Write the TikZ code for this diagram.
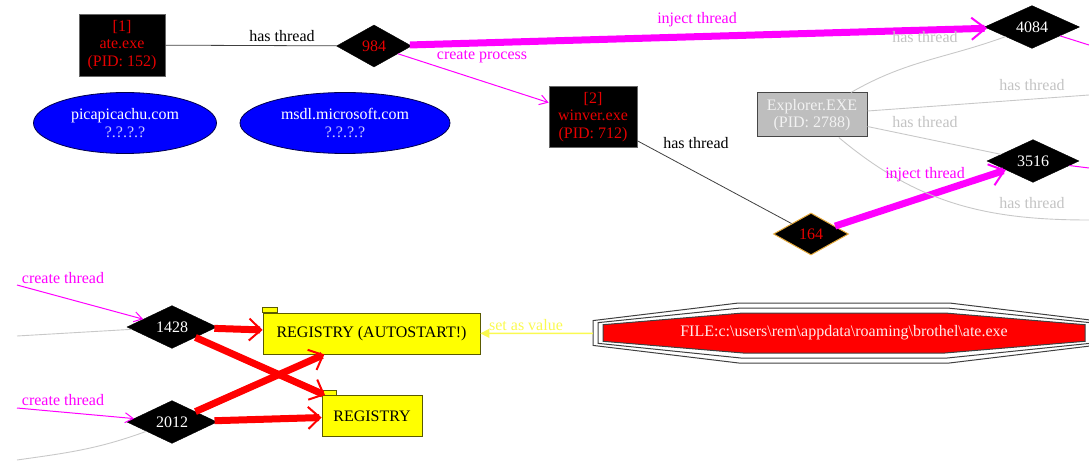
\documentclass[tikz,border=0pt]{standalone}
\usepackage{fontspec}
\setmainfont{Liberation Serif}
\usetikzlibrary{arrows.meta,calc,positioning,shapes.geometric}
\definecolor{procred}{RGB}{230,0,0}
\definecolor{injectpink}{RGB}{255,0,255}
\definecolor{greyedge}{RGB}{200,200,200}
\definecolor{greytext}{RGB}{195,195,195}
\definecolor{explorerfill}{RGB}{190,190,190}
\definecolor{explorerdraw}{RGB}{70,70,70}
\definecolor{hostblue}{RGB}{0,0,255}
\definecolor{hostgrey}{RGB}{205,205,255}
\definecolor{goldborder}{RGB}{230,170,60}
\definecolor{regyellow}{RGB}{255,255,0}
\definecolor{regborder}{RGB}{90,90,0}
\definecolor{valueyellow}{RGB}{250,250,80}
\definecolor{filered}{RGB}{255,0,0}
\tikzset{
  graph text/.style={font=\fontsize{16}{17.5}\selectfont},
  process vertex/.style={rectangle,draw=black!60,fill=black,text=procred,
    align=center,minimum width=86pt,minimum height=62pt,inner sep=0pt,
    line width=0.8pt,graph text},
  explorer vertex/.style={rectangle,draw=explorerdraw,fill=explorerfill,
    text=white!95!black,align=center,minimum width=110pt,minimum height=44pt,
    inner sep=0pt,line width=1pt,graph text},
  host vertex/.style={ellipse,draw=blue!30!black,fill=hostblue,text=white,
    align=center,minimum height=61pt,inner sep=0pt,line width=0.8pt,graph text},
  thread vertex/.style={diamond,draw=black,fill=black,text=white,
    minimum width=90pt,minimum height=42pt,inner sep=0pt,graph text},
  registry vertex/.style={rectangle,draw=regborder,fill=regyellow,text=black,
    minimum height=41pt,inner sep=0pt,line width=0.8pt,graph text},
  registry tab/.style={draw=regborder,fill=regyellow,line width=0.8pt},
  file vertex/.style={rectangle,text=white!92!red,minimum width=502pt,
    minimum height=60pt,inner sep=0pt,graph text},
  file ring/.style={draw=black!75,line width=1pt},
  file core/.style={draw=black!75,fill=filered,line width=1pt},
  edge label/.style={inner sep=0pt,graph text},
  has edge/.style={draw=black!75,line width=0.8pt},
  grey edge/.style={draw=greyedge,line width=0.9pt},
  inject edge/.style={-{Straight Barb[length=14pt,width=22pt,line width=2pt]},
    draw=injectpink,line width=7pt},
  create edge/.style={-{Straight Barb[length=8pt,width=10pt,line width=1pt]},
    draw=injectpink,line width=1pt},
  write edge/.style={-{Straight Barb[length=12pt,width=22pt,line width=2pt]},
    draw=red,line width=7pt},
  value edge/.style={-{Triangle[length=9pt,width=9pt]},
    draw=valueyellow,fill=valueyellow,line width=1.5pt}
}
\begin{document}
\begin{tikzpicture}[x=1pt,y=1pt]
  \useasboundingbox (0,0) rectangle (1089,-462);
  % loose ends at the frame
  \coordinate (exitexp1) at (1089,-95);
  \coordinate (exitexp2) at (1089,-220);
  \coordinate (exit4084) at (1089,-45);
  \coordinate (exit3516) at (1089,-168);
  \coordinate (inpink1428) at (17,-285);
  \coordinate (ingrey1428) at (17,-336);
  \coordinate (inpink2012) at (17,-408);
  \coordinate (ingrey2012) at (17,-460);
  \coordinate (filecentre) at (844,-333);
  % processes and hosts
  \node[process vertex] (proc1) at (122,-45) {[1]\\ate.exe\\(PID: 152)};
  \node[process vertex,minimum width=88pt,minimum height=61pt] (proc2)
    at (593,-117) {[2]\\winver.exe\\(PID: 712)};
  \node[explorer vertex] (explorer) at (812,-115) {Explorer.EXE\\(PID: 2788)};
  \node[host vertex,minimum width=183pt] (host1) at (125,-123)
    {picapicachu.com\\\textcolor{hostgrey}{?.?.?.?}};
  \node[host vertex,minimum width=210pt] (host2) at (345,-123)
    {msdl.microsoft.com\\\textcolor{hostgrey}{?.?.?.?}};
  % threads
  \node[thread vertex,minimum width=75pt,text=procred] (t984) at (374,-46) {984};
  \node[thread vertex,minimum width=95pt] (t4084) at (1032,-27) {4084};
  \node[thread vertex,minimum width=92pt] (t3516) at (1033,-161) {3516};
  \node[thread vertex,minimum width=75pt,draw=goldborder,line width=1pt,
    text=procred] (t164) at (811,-234) {164};
  \node[thread vertex] (t1428) at (172,-327) {1428};
  \node[thread vertex] (t2012) at (172,-422) {2012};
  % registry keys
  \node[registry vertex,minimum width=217pt] (regauto) at (371.5,-333.5)
    {REGISTRY (AUTOSTART!)};
  \node[registry vertex,minimum width=100pt] (regplain) at (372,-416) {REGISTRY};
  \foreach \reg in {regauto,regplain}
    \draw[registry tab] (\reg.north west) rectangle ++(15,5);
  % file
  \foreach \hw/\hh in {251/30,246/25}
    \draw[file ring,shift={(filecentre)}]
      ({-\hw},{-0.414*\hh}) -- ({-\hw},{0.414*\hh}) -- ({-0.42*\hw},\hh)
      -- ({0.42*\hw},\hh) -- (\hw,{0.414*\hh}) -- (\hw,{-0.414*\hh})
      -- ({0.42*\hw},-\hh) -- ({-0.42*\hw},-\hh) -- cycle;
  \draw[file core,shift={(filecentre)}]
    (-241,-8.3) -- (-241,8.3) -- (-101,20) -- (101,20) -- (241,8.3)
    -- (241,-8.3) -- (101,-20) -- (-101,-20) -- cycle;
  \node[file vertex] (file) at (filecentre)
    {FILE:c:\textbackslash users\textbackslash rem\textbackslash appdata\textbackslash roaming\textbackslash brothel\textbackslash ate.exe};
  % edges
  \draw[has edge] (proc1) -- (t984);
  \draw[inject edge] (t984) -- (t4084);
  \draw[create edge] (t984) -- (proc2);
  \draw[has edge] (proc2) -- (t164);
  \draw[inject edge] (t164) -- (t3516);
  \draw[grey edge] (explorer) to[out=30,in=200] (t4084);
  \draw[grey edge] (explorer) -- (exitexp1);
  \draw[grey edge] (explorer) -- (t3516);
  \draw[grey edge] (explorer) to[out=-40,in=180] (exitexp2);
  \draw[create edge,-] (t4084) -- (exit4084);
  \draw[create edge,-] (t3516) -- (exit3516);
  \draw[create edge] (inpink1428) -- (t1428);
  \draw[grey edge] (ingrey1428) -- (t1428);
  \draw[create edge] (inpink2012) -- (t2012);
  \draw[grey edge] (ingrey2012) to[out=8,in=200] (t2012);
  \foreach \from/\to in {t1428/regauto,t1428/regplain,t2012/regauto,t2012/regplain}
    \draw[write edge] (\from) -- (\to);
  \draw[value edge] (file) -- (regauto);
  % edge labels
  \node[edge label] (lblhas1) at (282,-36) {has thread};
  \node[edge label,text=injectpink] (lblinj1) at (697,-20) {inject thread};
  \node[edge label,text=injectpink] (lblcreate) at (482,-57) {create process};
  \node[edge label] (lblhas2) at (696,-143) {has thread};
  \node[edge label,text=injectpink] (lblinj2) at (925,-175) {inject thread};
  \node[edge label,text=greytext] (lblexp1) at (925,-37) {has thread};
  \node[edge label,text=greytext] (lblexp2) at (1032,-85) {has thread};
  \node[edge label,text=greytext] (lblexp3) at (925,-122) {has thread};
  \node[edge label,text=greytext] (lblexp4) at (1032,-203) {has thread};
  \node[edge label,text=injectpink] (lblthr1) at (63,-278) {create thread};
  \node[edge label,text=injectpink] (lblthr2) at (63,-400) {create thread};
  \node[edge label,text=valueyellow] (lblvalue) at (526,-325) {set as value};
\end{tikzpicture}
\end{document}
